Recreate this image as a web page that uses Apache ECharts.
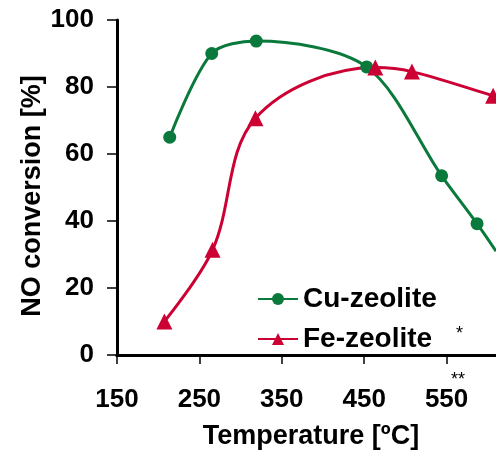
<!DOCTYPE html>
<html>
<head>
<meta charset="utf-8">
<script src="https://cdn.jsdelivr.net/npm/echarts@6/dist/echarts.min.js"></script>
<style>html,body{margin:0;padding:0;background:#fff}#c{width:496px;height:453px}</style>
</head>
<body>
<div id="c"></div>
<script>
var cuTemp = [214, 265, 319, 453, 544, 587, 610];
var cuConv = [65, 90, 93.7, 86, 53.5, 39.2, 31];
var feTemp = [207.5, 266, 318, 463.5, 508, 606.5, 615];
var feConv = [10, 31.4, 70.7, 85.8, 84.6, 77.4, 77];
var xTicks = [150, 250, 350, 450, 550];
var yTicks = [0, 20, 40, 60, 80, 100];

function pairs(xs, ys, visibleCount) {
  return xs.map(function (x, i) {
    var d = { value: [x, ys[i]] };
    if (i >= visibleCount) { d.symbol = 'none'; }
    return d;
  });
}

var font = 'Liberation Sans, Arial, sans-serif';
var chart = echarts.init(document.getElementById('c'), null, { renderer: 'canvas' });
chart.setOption({
  animation: false,
  backgroundColor: '#fff',
  grid: { left: 117, top: 20, right: 0, bottom: 98, containLabel: false },
  legend: {
    left: 252, top: 280, orient: 'vertical', itemGap: 12,
    itemWidth: 40, itemHeight: 15,
    textStyle: { fontFamily: font, fontWeight: 'bold', fontSize: 28, color: '#000' },
    data: ['Cu-zeolite', 'Fe-zeolite']
  },
  xAxis: [{
    type: 'value', min: 150, max: 610, interval: 100,
    axisLine: { show: true, onZero: false, lineStyle: { color: '#000', width: 3 } },
    axisTick: { show: true, inside: false, length: 9, lineStyle: { color: '#000', width: 1.5 } },
    axisLabel: { margin: 32, showMaxLabel: false, fontFamily: font, fontWeight: 'bold', fontSize: 26, color: '#000',
      formatter: function (v) { return xTicks.indexOf(v) >= 0 ? String(v) : ''; } },
    splitLine: { show: false }
  }, {
    type: 'value', position: 'top', min: 150, max: 610,
    axisLine: { show: true, lineStyle: { color: '#000', width: 3 } },
    axisTick: { show: false }, axisLabel: { show: false }, splitLine: { show: false }
  }],
  yAxis: {
    type: 'value', min: 0, max: 100, interval: 20,
    axisLine: { show: true, lineStyle: { color: '#000', width: 3 } },
    axisTick: { show: true, length: 10, lineStyle: { color: '#000', width: 1.5 } },
    axisLabel: { margin: 23, fontFamily: font, fontWeight: 'bold', fontSize: 26, color: '#000',
      formatter: function (v) { return yTicks.indexOf(v) >= 0 ? String(v) : ''; } },
    splitLine: { show: false }
  },
  series: [{
    name: 'Cu-zeolite', type: 'line', smooth: 0.3, clip: true,
    symbol: 'circle', symbolSize: 13,
    itemStyle: { color: '#0a7a3c' },
    lineStyle: { color: '#0a7a3c', width: 3 },
    data: pairs(cuTemp, cuConv, 6)
  }, {
    name: 'Fe-zeolite', type: 'line', smooth: 0.35, clip: true,
    symbol: 'triangle', symbolSize: 16,
    itemStyle: { color: '#cc0033' },
    lineStyle: { color: '#cc0033', width: 3 },
    data: pairs(feTemp, feConv, 6)
  }],
  graphic: [
    { type: 'text', x: 311, y: 437, style: { text: 'Temperature [ºC]', fontFamily: font, fontWeight: 'bold', fontSize: 27, fill: '#000', align: 'center', verticalAlign: 'middle' } },
    { type: 'text', x: 33, y: 196, rotation: Math.PI / 2, style: { text: 'NO conversion [%]', fontFamily: font, fontWeight: 'bold', fontSize: 27, fill: '#000', align: 'center', verticalAlign: 'middle' } },
    { type: 'text', left: 456, top: 325, style: { text: '*', fontFamily: font, fontSize: 18, fill: '#000' } },
    { type: 'text', left: 451, top: 371, style: { text: '**', fontFamily: font, fontSize: 18, fill: '#000' } }
  ]
});
</script>
</body>
</html>
